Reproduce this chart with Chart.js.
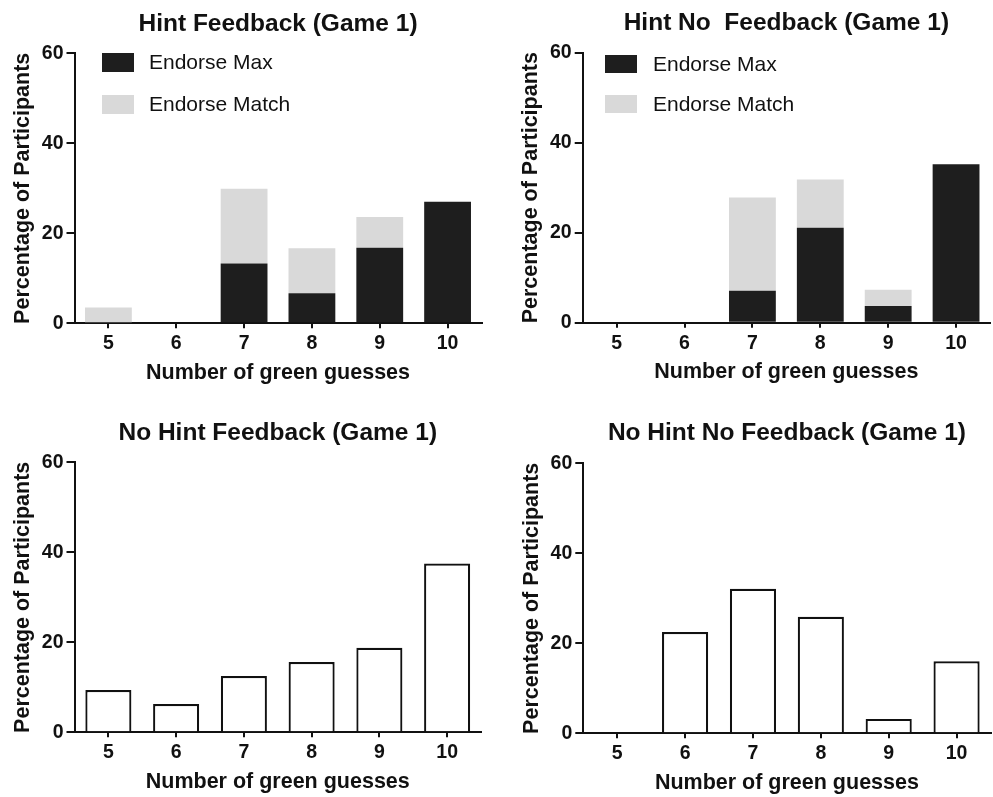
<!DOCTYPE html>
<html>
<head>
<meta charset="utf-8">
<script src="https://cdn.jsdelivr.net/npm/chart.js@4/dist/chart.umd.min.js"></script>
<style>
  html, body { margin: 0; padding: 0; background: #ffffff; }
  #wrap { position: relative; width: 993px; height: 797px; overflow: hidden; background: #ffffff; }
  #wrap canvas { position: absolute; }
</style>
</head>
<body>
<div id="wrap">
  <canvas id="c1" width="497" height="398" style="left:0px;top:0px;width:497px;height:398px"></canvas>
  <canvas id="c2" width="496" height="398" style="left:497px;top:0px;width:496px;height:398px"></canvas>
  <canvas id="c3" width="497" height="399" style="left:0px;top:398px;width:497px;height:399px"></canvas>
  <canvas id="c4" width="496" height="399" style="left:497px;top:398px;width:496px;height:399px"></canvas>
</div>
<script>
// Categories and tick values
const guesses = ['5', '6', '7', '8', '9', '10'];
const yTicks = [0, 20, 40, 60];
const seriesLabels = ['Endorse Max', 'Endorse Match'];

// Panel titles
const panelTitles = [
  'Hint Feedback (Game 1)',
  'Hint No  Feedback (Game 1)',
  'No Hint Feedback (Game 1)',
  'No Hint No Feedback (Game 1)'
];

// Percentage of participants per number of green guesses
const hintFeedbackMax = [0, 0, 13.3, 6.7, 16.8, 27.0];
const hintFeedbackMatch = [3.5, 0, 16.6, 10.0, 6.8, 0];
const hintNoFeedbackMax = [0, 0, 7.1, 21.1, 3.7, 35.2];
const hintNoFeedbackMatch = [0, 0, 20.7, 10.7, 3.6, 0];
const noHintFeedback = [9.4, 6.3, 12.5, 15.6, 18.8, 37.5];
const noHintNoFeedback = [0, 22.5, 32.1, 25.9, 3.2, 16.0];

const FONT = "'Liberation Sans', Arial, Helvetica, sans-serif";
const INK = '#111111';
const DARK = '#1e1e1e';
const LIGHT = '#d9d9d9';

// Legend drawn inside the plot area: a filled box followed by its label
const boxLegend = {
  id: 'boxLegend',
  afterDraw(chart, args, opts) {
    if (!opts || !opts.show) return;
    const ctx = chart.ctx;
    ctx.save();
    ctx.font = '21px ' + FONT;
    ctx.textBaseline = 'middle';
    ctx.textAlign = 'left';
    chart.data.datasets.forEach((ds, i) => {
      const y = opts.top + i * opts.rowGap;
      ctx.fillStyle = ds.backgroundColor;
      ctx.fillRect(opts.left, y, opts.boxW, opts.boxH);
      ctx.fillStyle = INK;
      ctx.fillText(ds.label, opts.left + opts.textGap, y + opts.boxH / 2 + 1);
    });
    ctx.restore();
  }
};

function makeOptions(title, lay) {
  return {
    responsive: false,
    animation: false,
    devicePixelRatio: 1,
    layout: { padding: { left: lay.padL, right: lay.padR, top: 0, bottom: lay.padB } },
    plugins: {
      legend: { display: false },
      tooltip: { enabled: false },
      title: {
        display: true,
        text: title,
        fullSize: false,
        color: INK,
        font: { family: FONT, size: 24.5, weight: 'bold', lineHeight: 1.2 },
        padding: { top: lay.titleTop, bottom: lay.titleBottom }
      },
      boxLegend: lay.legend || { show: false }
    },
    scales: {
      x: {
        stacked: true,
        offset: true,
        afterFit: s => { s.height = 63; },
        border: { display: true, color: INK, width: 2 },
        grid: { offset: false, drawOnChartArea: false, drawTicks: true, tickLength: 5, color: INK, lineWidth: 2 },
        ticks: { color: INK, font: { family: FONT, size: 19.5, weight: 'bold' }, padding: 3.8, maxRotation: 0, autoSkip: false },
        title: {
          display: true,
          text: 'Number of green guesses',
          color: INK,
          font: { family: FONT, size: 21.5, weight: 'bold', lineHeight: 1.2 },
          padding: { top: 0, bottom: 0.6 }
        }
      },
      y: {
        stacked: true,
        min: 0,
        max: 60,
        afterBuildTicks: s => { s.ticks = yTicks.map(v => ({ value: v })); },
        afterFit: s => { s.width = 74.5; },
        border: { display: true, color: INK, width: 2 },
        grid: { drawOnChartArea: false, drawTicks: true, tickLength: 8, color: INK, lineWidth: 2 },
        ticks: { color: INK, font: { family: FONT, size: 19.5, weight: 'bold' }, padding: 3 },
        title: {
          display: true,
          text: 'Percentage of Participants',
          color: INK,
          font: { family: FONT, size: 21.5, weight: 'bold', lineHeight: 1.2 },
          padding: { top: 10.1, bottom: 0 }
        }
      }
    }
  };
}

function stackedData(maxVals, matchVals) {
  return {
    labels: guesses,
    datasets: [
      { label: seriesLabels[0], data: maxVals, backgroundColor: DARK, borderWidth: 0,
        categoryPercentage: 1, barPercentage: 0.69 },
      { label: seriesLabels[1], data: matchVals, backgroundColor: LIGHT, borderWidth: 0,
        categoryPercentage: 1, barPercentage: 0.69 }
    ]
  };
}

function hollowData(vals) {
  return {
    labels: guesses,
    datasets: [
      { label: 'Participants', data: vals, backgroundColor: '#ffffff', borderColor: INK,
        borderWidth: 2.2, borderSkipped: 'start', categoryPercentage: 1, barPercentage: 0.68 }
    ]
  };
}

new Chart(document.getElementById('c1'), {
  type: 'bar',
  data: stackedData(hintFeedbackMax, hintFeedbackMatch),
  options: makeOptions(panelTitles[0], {
    padL: 0, padR: 15.5, padB: 11.7, titleTop: 9.5, titleBottom: 14.4,
    legend: { show: true, left: 102, top: 53, rowGap: 42, boxW: 32, boxH: 19, textGap: 47 }
  }),
  plugins: [boxLegend]
});

new Chart(document.getElementById('c2'), {
  type: 'bar',
  data: stackedData(hintNoFeedbackMax, hintNoFeedbackMatch),
  options: makeOptions(panelTitles[1], {
    padL: 11.2, padR: 3, padB: 12.3, titleTop: 8.6, titleBottom: 14.7,
    legend: { show: true, left: 108, top: 55, rowGap: 40, boxW: 32, boxH: 18, textGap: 48 }
  }),
  plugins: [boxLegend]
});

new Chart(document.getElementById('c3'), {
  type: 'bar',
  data: hollowData(noHintFeedback),
  options: makeOptions(panelTitles[2], {
    padL: 0, padR: 16, padB: 1.7, titleTop: 20.1, titleBottom: 14.8
  }),
  plugins: [boxLegend]
});

new Chart(document.getElementById('c4'), {
  type: 'bar',
  data: hollowData(noHintNoFeedback),
  options: makeOptions(panelTitles[3], {
    padL: 11.8, padR: 2.5, padB: 0.7, titleTop: 20.1, titleBottom: 15.8
  }),
  plugins: [boxLegend]
});
</script>
</body>
</html>
